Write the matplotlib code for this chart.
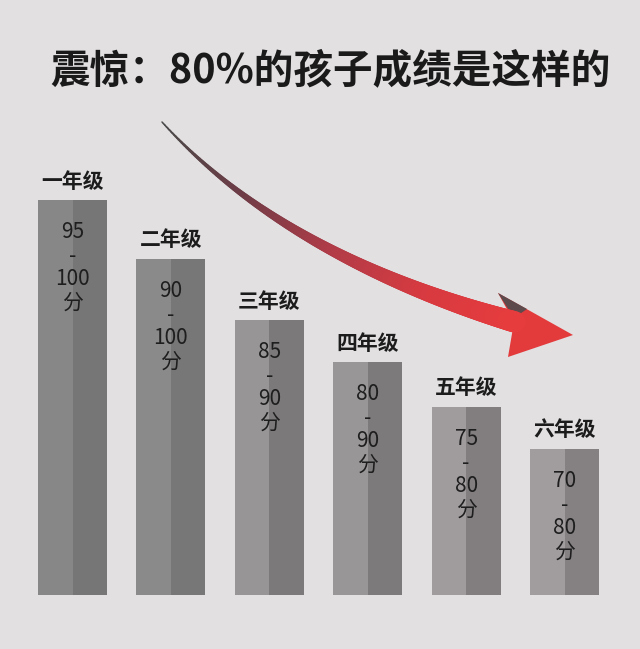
import numpy as np
import matplotlib
matplotlib.use("Agg")
import matplotlib.pyplot as plt
from matplotlib.collections import LineCollection
from matplotlib.patches import Polygon
from matplotlib.colors import LinearSegmentedColormap

plt.rcParams['font.family'] = ['Noto Sans CJK SC', 'DejaVu Sans']

# ---- data ----
title = "震惊：80%的孩子成绩是这样的"
grades = ["一年级", "二年级", "三年级", "四年级", "五年级", "六年级"]
score_low = [95, 90, 85, 80, 75, 70]
score_high = [100, 100, 90, 90, 80, 80]
bar_height = [395, 336, 275, 233, 188, 146]   # relative visual heights
unit = "分"

# ---- style ----
bg = "#e2e0e1"
left_cols = ["#878787", "#8a8a8a", "#979595", "#999697", "#a09b9d", "#a19c9e"]
right_cols = ["#767676", "#777777", "#7b7979", "#7d7a7b", "#827e80", "#858183"]

fig = plt.figure(figsize=(6.4, 6.49), dpi=100)
fig.patch.set_facecolor(bg)

ax = fig.add_axes([0, 54 / 649, 1, 595 / 649])
ax.set_facecolor("none")
x = np.arange(len(grades))
w = 0.70
ax.bar(x, bar_height, width=w, color=left_cols, linewidth=0)
ax.bar(x + w / 4, bar_height, width=w / 2, color=right_cols, linewidth=0)
ax.set_xlim(-72.5 / 98.4, 567.5 / 98.4)
ax.set_ylim(0, 595)
ax.axis("off")

for xi, h, g, lo, hi in zip(x, bar_height, grades, score_low, score_high):
    ax.text(xi, h + 19, g, ha="center", va="center", fontsize=15,
            fontweight="bold", color="#1c1c1c")
    ax.text(xi, h - 21, f"{lo}\n-\n{hi}\n{unit}", ha="center", va="top",
            fontsize=15, color="#1e1e1e", linespacing=1.1)

# ---- title & arrow overlay (pixel coordinates) ----
ov = fig.add_axes([0, 0, 1, 1])
ov.set_xlim(0, 640)
ov.set_ylim(649, 0)
ov.set_facecolor("none")
ov.axis("off")

ov.text(331, 71, title, ha="center", va="center", fontsize=28.5,
        fontweight="bold", color="#1a1a1a")

P0 = np.array([162, 122]); P1 = np.array([260, 230])
P2 = np.array([400, 290]); P3 = np.array([515, 322])
t = np.linspace(0, 1, 200)[:, None]
pts = ((1 - t) ** 3) * P0 + 3 * ((1 - t) ** 2) * t * P1 + 3 * (1 - t) * t ** 2 * P2 + t ** 3 * P3
segs = np.stack([pts[:-1], pts[1:]], axis=1)
tt = t[:-1, 0]
widths = (1.5 + 20 * tt ** 1.1) * 0.72
cmap = LinearSegmentedColormap.from_list(
    "arr", ["#4a4a4a", "#6e3c46", "#b03c48", "#d63a40", "#e63c3e"])
lc = LineCollection(segs, linewidths=widths, colors=cmap(tt), capstyle="round")
ov.add_collection(lc)

head = Polygon([[498, 293], [573, 335], [508, 357], [514, 322]],
               closed=True, facecolor="#e33a3c", edgecolor="none")
ov.add_patch(head)
wedge = Polygon([[498, 293], [527, 309], [514, 318]], closed=True,
                facecolor="#5c4a4c", edgecolor="none")
ov.add_patch(wedge)

fig.savefig("out.png", dpi=100, facecolor=bg)
